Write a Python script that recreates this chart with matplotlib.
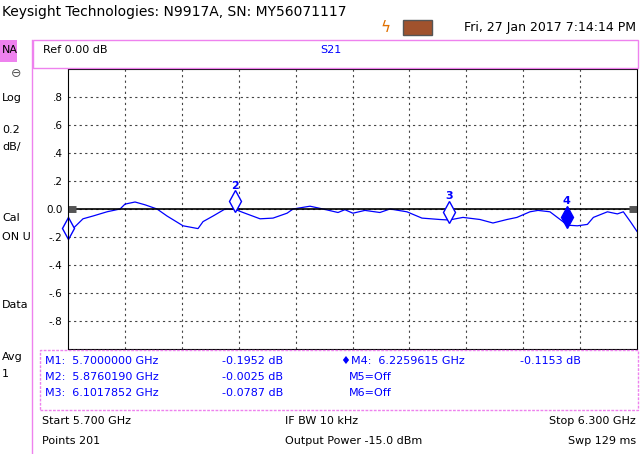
import matplotlib.pyplot as plt
from matplotlib.patches import Rectangle
import numpy as np

W, H = 640, 454

# trace: frequency (GHz) and S21 (dB)
freq = [5.7000, 5.7053, 5.7158, 5.7264, 5.7411, 5.7549, 5.7601, 5.7707, 5.7812,
        5.7939, 5.8044, 5.8213, 5.8371, 5.8424, 5.8530, 5.8656, 5.8760, 5.8846,
        5.9025, 5.9162, 5.9310, 5.9373, 5.9552, 5.9689, 5.9847, 5.9920,
        6.0004, 6.0131, 6.0289, 6.0395, 6.0574, 6.0732, 6.0922, 6.1018, 6.1165,
        6.1344, 6.1481, 6.1629, 6.1734, 6.1871, 6.1956, 6.2082, 6.2219, 6.2260,
        6.2371, 6.2477, 6.2540, 6.2688, 6.2793, 6.2856, 6.2930, 6.3000]
s21 = [-0.195, -0.14, -0.07, -0.05, -0.02, 0.0, 0.035, 0.05, 0.03, 0.0, -0.05,
       -0.12, -0.14, -0.09, -0.05, 0.0, -0.0025, -0.025, -0.07, -0.065, -0.03,
       0.0, 0.02, 0.0, -0.025, -0.005, -0.03, -0.01, -0.025, 0.0, -0.02, -0.065,
       -0.075, -0.0787, -0.06, -0.075, -0.1, -0.075, -0.06, -0.02, -0.01, -0.02,
       -0.09, -0.1153, -0.12, -0.11, -0.06, -0.02, -0.035, -0.02, -0.09, -0.16]

mk_names = ['1', '2', '3', '4']
mk_freq = [5.7000000, 5.8760190, 6.1017852, 6.2259615]
mk_val = [-0.1952, -0.0025, -0.0787, -0.1153]

yticks = [0.8, 0.6, 0.4, 0.2, 0.0, -0.2, -0.4, -0.6, -0.8]
ylabels = ['.8', '.6', '.4', '.2', '0.0', '-.2', '-.4', '-.6', '-.8']

side_labels = [('Log', 98), ('0.2', 130), ('dB/', 147), ('Cal', 218),
               ('ON U', 237), ('Data', 305), ('Avg', 357), ('1', 374)]

PINK = '#ee82ee'
BLUE = '#0000ff'

def fx(x):
    return x / W

def fy(y):
    return 1 - y / H

fig = plt.figure(figsize=(6.4, 4.54), dpi=100)
plt.rcParams['font.family'] = 'DejaVu Sans'

def txt(x, y, s, **kw):
    kw.setdefault('fontsize', 8)
    kw.setdefault('va', 'center')
    fig.text(fx(x), fy(y), s, **kw)

def box(x0, y0, x1, y1, **kw):
    fig.add_artist(Rectangle((fx(x0), fy(y1)), fx(x1 - x0), (y1 - y0) / H,
                             transform=fig.transFigure, **kw))

# header
txt(2, 12, 'Keysight Technologies: N9917A, SN: MY56071117', fontsize=10)
txt(636, 28, 'Fri, 27 Jan 2017 7:14:14 PM', fontsize=9, ha='right')
box(403, 20, 432, 35, facecolor='#a0522d', edgecolor='#555555', lw=1)
txt(386, 28, 'ϟ', fontsize=11, color='#e07000', ha='center')

# frames
box(0, 40, 17, 62, facecolor=PINK, edgecolor='none')
fig.add_artist(plt.Line2D([fx(32), fx(32)], [fy(40), fy(454)], color=PINK, lw=1))
box(33, 40, 638, 68, facecolor='none', edgecolor=PINK, lw=1)
box(40, 350, 638, 410, facecolor='none', edgecolor=PINK, lw=1, ls=(0, (2, 1)))
txt(2, 50, 'NA')
txt(43, 50, 'Ref 0.00 dB')
txt(320, 50, 'S21', color=BLUE)
for s, y in side_labels:
    txt(2, y, s)
txt(16, 74, '⊖', fontsize=9, ha='center', color='#555555')

# plot area
ax = fig.add_axes([fx(68), fy(349), fx(637 - 68), (349 - 69) / H])
ax.plot(freq, s21, color=BLUE, lw=0.9)
ax.axhline(0, color='black', lw=1.2)
ax.set_xlim(5.7, 6.3)
ax.set_ylim(-1.0, 1.0)
ax.set_xticks(np.linspace(5.7, 6.3, 11)[1:-1])
ax.set_yticks(yticks)
ax.set_yticklabels(ylabels, fontsize=7.5)
ax.set_xticklabels([])
ax.tick_params(length=0, pad=4)
ax.grid(True, color='#444444', ls=(0, (2, 3)), lw=0.8)
for s in ax.spines.values():
    s.set_color('black')
ax.plot([5.7, 5.708], [0, 0], color='#555555', lw=5, solid_capstyle='butt')
ax.plot([6.292, 6.3], [0, 0], color='#555555', lw=5, solid_capstyle='butt')
for i, (n, f, v) in enumerate(zip(mk_names, mk_freq, mk_val)):
    filled = i == 3
    ax.plot(f, v + 0.06, marker='d', ms=11, mec=BLUE,
            mfc=BLUE if filled else 'white', mew=1, clip_on=False)
    if i > 0:
        ax.text(f, v + 0.17, n, color=BLUE, fontsize=8, fontweight='bold',
                ha='center', va='center')

# marker table
rows = [('M1:  5.7000000 GHz', '-0.1952 dB', 361),
        ('M2:  5.8760190 GHz', '-0.0025 dB', 377),
        ('M3:  6.1017852 GHz', '-0.0787 dB', 393)]
for a, b, y in rows:
    txt(45, y, a, color=BLUE)
    txt(222, y, b, color=BLUE)
txt(341, 361, '♦M4:  6.2259615 GHz', color=BLUE)
txt(520, 361, '-0.1153 dB', color=BLUE)
txt(349, 377, 'M5=Off', color=BLUE)
txt(349, 393, 'M6=Off', color=BLUE)

# footer
txt(42, 421, 'Start 5.700 GHz')
txt(42, 441, 'Points 201')
txt(285, 421, 'IF BW 10 kHz')
txt(285, 441, 'Output Power -15.0 dBm')
txt(636, 421, 'Stop 6.300 GHz', ha='right')
txt(636, 441, 'Swp 129 ms', ha='right')

fig.savefig('out.png', dpi=100)
